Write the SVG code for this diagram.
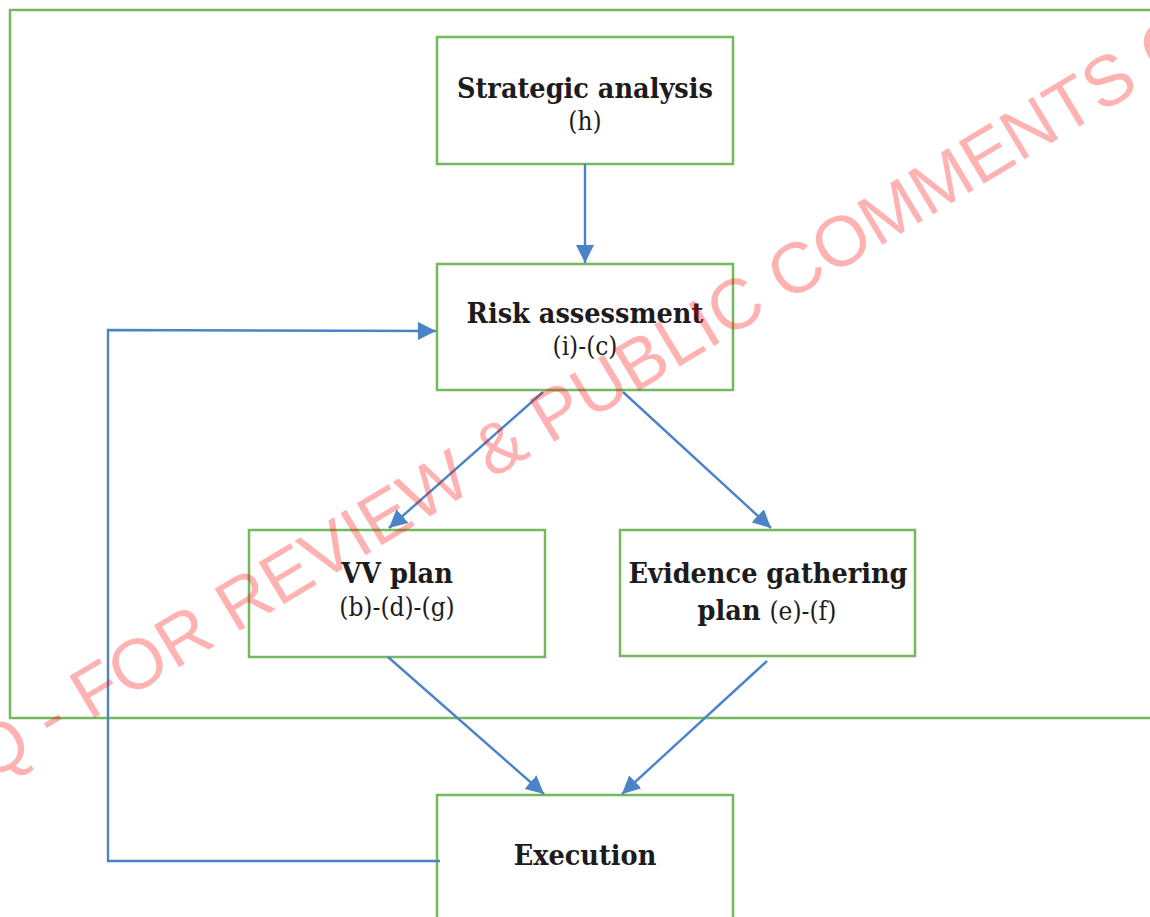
<svg xmlns="http://www.w3.org/2000/svg" width="1150" height="917" viewBox="0 0 1150 917">
<style>
.box{fill:none;stroke:#74b85f;stroke-width:2.5}
.con{fill:none;stroke:#4a84c6;stroke-width:2.4}
.t{font-family:"DejaVu Serif Condensed","DejaVu Serif","Liberation Serif",serif;font-stretch:condensed;fill:#1e1b1c;text-anchor:middle}
.b{font-weight:bold;font-size:28.5px}
.r{font-weight:normal;font-size:26px}
.wm{font-family:"Liberation Sans",Arial,sans-serif;font-size:71px;fill:#ff0000;fill-opacity:0.3}
</style>
<defs>
<marker id="ah" viewBox="0 0 10 10" refX="10" refY="5" markerWidth="7.5" markerHeight="7.5" markerUnits="strokeWidth" orient="auto">
<path d="M0,0 L10,5 L0,10 z" fill="#4a84c6"/>
</marker>
</defs>
<rect width="1150" height="917" fill="#ffffff"/>
<g id="frame"><rect class="box" x="10" y="10" width="1160" height="708"/></g>
<g id="strategic"><rect class="box" x="437" y="37" width="296" height="127"/>
<text class="t b" x="585" y="98">Strategic analysis</text>
<text class="t r" x="585" y="130">(h)</text></g>
<g id="risk"><rect class="box" x="437" y="264" width="296" height="126"/>
<text class="t b" x="585" y="323">Risk assessment</text>
<text class="t r" x="585" y="355">(i)-(c)</text></g>
<g id="vv"><rect class="box" x="249" y="530" width="296" height="127"/>
<text class="t b" x="397" y="583">VV plan</text>
<text class="t r" x="397" y="616">(b)-(d)-(g)</text></g>
<g id="evidence"><rect class="box" x="620" y="530" width="295" height="126"/>
<text class="t b" x="768" y="583">Evidence gathering</text>
<text class="t" x="767" y="620"><tspan class="b">plan </tspan><tspan class="r">(e)-(f)</tspan></text></g>
<g id="execution"><rect class="box" x="437" y="795" width="296" height="140"/>
<text class="t b" x="585" y="865">Execution</text></g>
<g id="connectors">
<line class="con" x1="585" y1="164" x2="585" y2="263" marker-end="url(#ah)"/>
<polyline class="con" points="440,861 108,861 108,330 436,331" marker-end="url(#ah)"/>
<line class="con" x1="543" y1="392" x2="389" y2="528" marker-end="url(#ah)"/>
<line class="con" x1="623" y1="392" x2="771" y2="528" marker-end="url(#ah)"/>
<line class="con" x1="388" y1="657" x2="544" y2="794" marker-end="url(#ah)"/>
<line class="con" x1="767" y1="661" x2="622" y2="794" marker-end="url(#ah)"/>
</g>
<g id="watermark"><text class="wm" transform="translate(-12 782) rotate(-31)">Q - FOR REVIEW &amp; PUBLIC COMMENTS O</text></g>
</svg>
